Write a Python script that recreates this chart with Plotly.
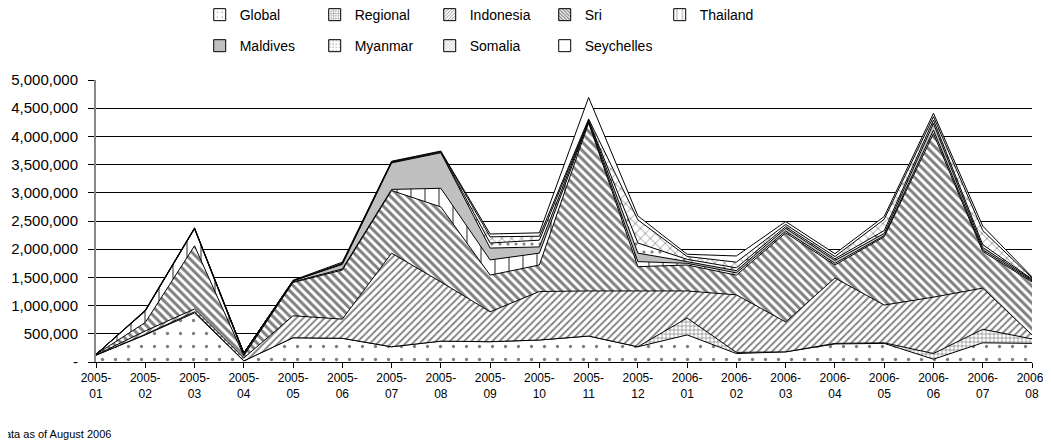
import plotly.graph_objects as go

months = ["2005-01", "2005-02", "2005-03", "2005-04", "2005-05", "2005-06", "2005-07",
          "2005-08", "2005-09", "2005-10", "2005-11", "2005-12", "2006-01", "2006-02",
          "2006-03", "2006-04", "2006-05", "2006-06", "2006-07", "2006-08"]
month_labels = [m.replace("-", "-<br>") for m in months]

global_v = [120000, 480000, 870000, 20000, 430000, 420000, 270000, 370000, 360000, 390000,
            460000, 270000, 480000, 150000, 180000, 320000, 330000, 50000, 340000, 330000]
regional = [0, 10000, 20000, 0, 0, 0, 0, 0, 0, 0,
            0, 0, 300000, 20000, 0, 10000, 10000, 100000, 240000, 80000]
indonesia = [5000, 60000, 50000, 50000, 390000, 340000, 1660000, 1050000, 530000, 860000,
             800000, 990000, 480000, 1020000, 530000, 1160000, 670000, 1000000, 730000, 70000]
sri = [10000, 150000, 1120000, 40000, 590000, 870000, 1110000, 1330000, 650000, 470000,
       2980000, 430000, 460000, 350000, 1580000, 230000, 1210000, 2900000, 650000, 940000]
thailand = [0, 200000, 300000, 20000, 10000, 20000, 20000, 330000, 270000, 210000,
            20000, 90000, 30000, 40000, 30000, 30000, 20000, 60000, 30000, 20000]
maldives = [0, 10000, 10000, 30000, 20000, 80000, 470000, 630000, 210000, 110000,
            20000, 150000, 30000, 40000, 50000, 50000, 40000, 120000, 40000, 20000]
myanmar = [0, 0, 0, 0, 0, 10000, 10000, 10000, 90000, 120000,
           10000, 180000, 40000, 50000, 30000, 30000, 50000, 60000, 50000, 10000]
somalia = [0, 0, 0, 0, 0, 10000, 10000, 10000, 110000, 70000,
           20000, 410000, 50000, 100000, 40000, 40000, 200000, 60000, 250000, 20000]
seychelles = [0, 10000, 10000, 0, 10000, 20000, 10000, 10000, 50000, 60000,
              380000, 70000, 40000, 110000, 50000, 50000, 50000, 60000, 80000, 20000]

y_ticks = [0, 500000, 1000000, 1500000, 2000000, 2500000, 3000000, 3500000, 4000000, 4500000, 5000000]
y_tick_text = ["-"] + [f"{v:,}" for v in y_ticks[1:]]

series = [
    ("Global", global_v, dict(shape=".", size=13, solidity=0.05), "legend"),
    ("Regional", regional, dict(shape="+", size=4, solidity=0.3), "legend"),
    ("Indonesia", indonesia, dict(shape="/", size=5, solidity=0.35), "legend"),
    ("Sri", sri, dict(shape="\\", size=6, solidity=0.5), "legend"),
    ("Thailand", thailand, dict(shape="|", size=14, solidity=0.12), "legend"),
    ("Maldives", maldives, None, "legend2"),
    ("Myanmar", myanmar, dict(shape=".", size=8, solidity=0.12), "legend2"),
    ("Somalia", somalia, dict(shape="x", size=7, solidity=0.2), "legend2"),
    ("Seychelles", seychelles, None, "legend2"),
]

fig = go.Figure()
for name, vals, pat, leg in series:
    kw = {}
    if pat is not None:
        kw["fillpattern"] = dict(fgcolor="black", bgcolor="white", **pat)
        fill = "white"
    elif name == "Maldives":
        fill = "#c0c0c0"
    else:
        fill = "white"
    fig.add_trace(go.Scatter(
        x=months, y=vals, name=name, mode="lines", stackgroup="one", fillcolor=fill,
        line=dict(color="black", width=1), showlegend=False, **kw))

# legend-only swatches (square patterned boxes like the reference legend)
for name, vals, pat, leg in series:
    marker = dict(color="white" if name != "Maldives" else "#c0c0c0",
                  line=dict(color="black", width=1))
    if pat is not None:
        p = dict(pat)
        p["size"] = max(3, int(p["size"] * 0.5))
        marker["pattern"] = dict(fgcolor="black", bgcolor="white", **p)
    fig.add_trace(go.Bar(x=[None], y=[None], name=name, marker=marker, legend=leg,
                         hoverinfo="skip"))

font = dict(family="Liberation Sans, Arial, sans-serif", size=12, color="black")
leg_common = dict(orientation="h", xref="container", yref="paper", x=0.1838,
                  xanchor="left", yanchor="top", entrywidth=70, entrywidthmode="pixels",
                  traceorder="normal", font=dict(size=14), bgcolor="rgba(0,0,0,0)")
fig.update_layout(
    width=1043, height=435,
    margin=dict(l=88, r=19, t=72, b=81, autoexpand=False),
    paper_bgcolor="white", plot_bgcolor="white",
    font=font,
    showlegend=True,
    legend=dict(y=1.287, **leg_common),
    legend2=dict(y=1.177, **leg_common),
    xaxis=dict(type="category", range=[0, len(months) - 1], tickvals=months,
               categoryorder="array", categoryarray=months,
               ticktext=month_labels, showline=True, linecolor="black", linewidth=1,
               ticks="outside", ticklen=5, tickcolor="black", showgrid=False,
               automargin=False, tickfont=dict(size=12)),
    yaxis=dict(range=[0, 5000000], tickvals=y_ticks, ticktext=y_tick_text,
               showgrid=True, gridcolor="black", gridwidth=1, zeroline=False,
               showline=True, linecolor="#888888", linewidth=2, ticks="outside",
               ticklen=6, tickcolor="black", ticklabelstandoff=7, automargin=False,
               tickfont=dict(size=15)),
    annotations=[dict(text="Data as of August 2006", xref="paper", yref="paper",
                      x=-0.108, y=-0.2553, xanchor="left", yanchor="middle",
                      showarrow=False, font=dict(size=11))],
)

fig.write_html("out.html")
